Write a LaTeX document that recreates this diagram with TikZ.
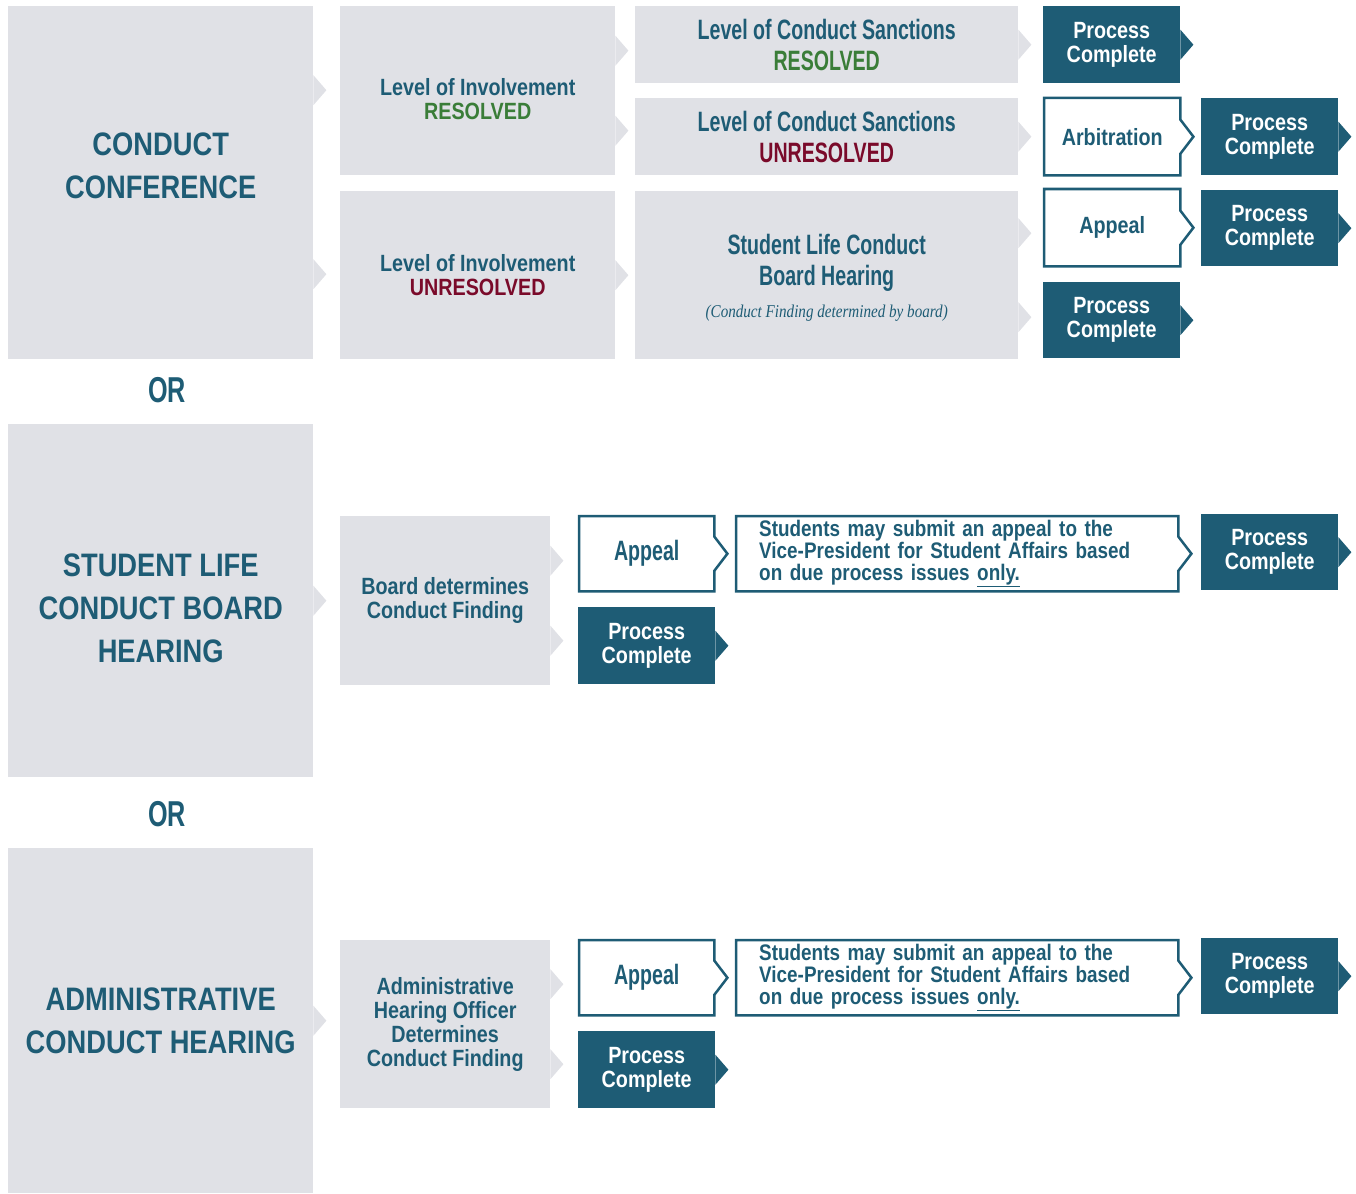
\documentclass[tikz,border=0pt]{standalone}
\usepackage{fontspec}
\setmainfont{Liberation Sans}
\newfontfamily\hcond{Liberation Sans}[FakeStretch=0.84]
\newfontfamily\hnarrow{Liberation Sans}[FakeStretch=0.70]
\newfontfamily\garam{Liberation Serif}[FakeStretch=0.84]
\newcommand\headfnt{\hcond\bfseries\fontsize{32.5}{43}\selectfont}
\newcommand\bodyfnt{\hcond\bfseries\fontsize{23.5}{24}\selectfont}
\newcommand\askfnt{\hcond\bfseries\fontsize{22.5}{22}\selectfont}
\newcommand\tallfnt{\hnarrow\bfseries\fontsize{28}{31}\selectfont}
\newcommand\orfnt{\hnarrow\bfseries\fontsize{36}{36}\selectfont}
\newcommand\notefnt{\garam\itshape\fontsize{18}{18}\selectfont}
\definecolor{mist}{RGB}{224,225,230}
\definecolor{ink}{RGB}{30,92,117}
\definecolor{okgreen}{RGB}{58,125,56}
\definecolor{badred}{RGB}{122,10,42}
\usetikzlibrary{positioning}
% small pointed tab on the right edge of a node
\def\sidetab#1#2#3{
\fill [#3] ([yshift=#2]#1.east) ++(0pt,15pt) -- ++(13pt,-15pt) -- ++(-13pt,-15pt) -- cycle;
}
% outlined box with a pointed right edge
\def\pointbox#1{
\draw [ink, line width=2.5pt]
      (#1.north west) -- (#1.north east) -- ([yshift=17pt]#1.east)
      -- ([xshift=13pt]#1.east) -- ([yshift=-17pt]#1.east)
      -- (#1.south east) -- (#1.south west) -- cycle;
}

\begin{document}
\begin{tikzpicture}[x=1pt, y=-1pt,
    mistbox/.style={fill=mist, text=ink, align=center, inner sep=0pt, anchor=north west},
    txt/.style={text=ink, align=center, inner sep=0pt},
    donebox/.style={fill=ink, text=white, align=center, inner sep=0pt, anchor=north west, font=\bodyfnt},
    linebox/.style={text=ink, align=center, inner sep=0pt, anchor=north west, font=\bodyfnt},
    askbox/.style={linebox, align=left, text width=396pt, inner xsep=23pt, font=\askfnt}]
    \useasboundingbox (0,0) rectangle (1356,1193);
    % conduct conference
    \node [mistbox, minimum width=305pt, minimum height=353pt] (conf) at (8,6) {};
    \node [txt, font=\headfnt] at ([yshift=17pt]conf.center) {CONDUCT\\CONFERENCE};
    \node [mistbox, minimum width=275pt, minimum height=169pt] (invok) at (340,6) {};
    \node [txt, font=\bodyfnt] at ([yshift=-8.5pt]invok.center) {Level of Involvement\\\textcolor{okgreen}{RESOLVED}};
    \node [mistbox, minimum width=275pt, minimum height=168pt, font=\bodyfnt] (invbad) at (340,191) {Level of Involvement\\\textcolor{badred}{UNRESOLVED}};
    \node [mistbox, minimum width=383pt, minimum height=77pt, font=\tallfnt] (sancok) at (635,6) {Level of Conduct Sanctions\\\textcolor{okgreen}{RESOLVED}};
    \node [mistbox, minimum width=383pt, minimum height=77pt, font=\tallfnt] (sancbad) at (635,98) {Level of Conduct Sanctions\\\textcolor{badred}{UNRESOLVED}};
    \node [mistbox, minimum width=383pt, minimum height=168pt] (board) at (635,191) {};
    \node [txt, font=\tallfnt] at ([yshift=12.5pt]board.center) {Student Life Conduct\\Board Hearing};
    \node [txt, font=\notefnt] at ([yshift=-38pt]board.center) {(Conduct Finding determined by board)};
    \node [donebox, minimum width=137pt, minimum height=77pt] (done1) at (1043,6) {Process\\Complete};
    \node [linebox, minimum width=136pt, minimum height=77pt] (arb) at (1044,98) {Arbitration};
    \node [linebox, minimum width=136pt, minimum height=77pt] (appeal1) at (1044,189) {Appeal};
    \node [donebox, minimum width=137pt, minimum height=76pt] (done2) at (1043,282) {Process\\Complete};
    \node [donebox, minimum width=137pt, minimum height=77pt] (done3) at (1201,98) {Process\\Complete};
    \node [donebox, minimum width=137pt, minimum height=76pt] (done4) at (1201,190) {Process\\Complete};
    \node [txt, font=\orfnt] (or1) at (167,390) {OR};
    % board hearing
    \node [mistbox, minimum width=305pt, minimum height=353pt] (slcb) at (8,424) {};
    \node [txt, font=\headfnt] at ([yshift=-7.5pt]slcb.center) {STUDENT LIFE\\CONDUCT BOARD\\HEARING};
    \node [mistbox, minimum width=210pt, minimum height=169pt, font=\bodyfnt] (bdfind) at (340,516) {Board determines\\Conduct Finding};
    \node [linebox, minimum width=135pt, minimum height=75pt, font=\tallfnt] (appeal2) at (579,516) {Appeal};
    \node [askbox, minimum height=75pt] (vp2) at (736,516) {Students may submit an appeal to the\\Vice-President for Student Affairs based\\on due process issues \underline{only.}};
    \node [donebox, minimum width=137pt, minimum height=76pt] (done5) at (1201,514) {Process\\Complete};
    \node [donebox, minimum width=137pt, minimum height=77pt] (done6) at (578,607) {Process\\Complete};
    \node [txt, font=\orfnt] (or2) at (167,814) {OR};
    % administrative hearing
    \node [mistbox, minimum width=305pt, minimum height=345pt, font=\headfnt] (ach) at (8,848) {ADMINISTRATIVE\\CONDUCT HEARING};
    \node [mistbox, minimum width=210pt, minimum height=168pt, font=\bodyfnt] (hofind) at (340,940) {Administrative\\Hearing Officer\\Determines\\Conduct Finding};
    \node [linebox, minimum width=135pt, minimum height=75pt, font=\tallfnt] (appeal3) at (579,940) {Appeal};
    \node [askbox, minimum height=75pt] (vp3) at (736,940) {Students may submit an appeal to the\\Vice-President for Student Affairs based\\on due process issues \underline{only.}};
    \node [donebox, minimum width=137pt, minimum height=76pt] (done7) at (1201,938) {Process\\Complete};
    \node [donebox, minimum width=137pt, minimum height=77pt] (done8) at (578,1031) {Process\\Complete};
    % tabs and outlines
    \sidetab{conf}{92.5pt}{mist}
    \sidetab{conf}{-91.5pt}{mist}
    \sidetab{invok}{40pt}{mist}
    \sidetab{invok}{-40pt}{mist}
    \sidetab{board}{42pt}{mist}
    \sidetab{board}{-42pt}{mist}
    \sidetab{bdfind}{40pt}{mist}
    \sidetab{bdfind}{-40pt}{mist}
    \sidetab{hofind}{40pt}{mist}
    \sidetab{hofind}{-40pt}{mist}
    \foreach \n in {invbad,sancok,sancbad,slcb,ach} {\sidetab{\n}{0pt}{mist}}
    \foreach \n in {done1,done2,done3,done4,done5,done6,done7,done8} {\sidetab{\n}{0pt}{ink}}
    \foreach \n in {arb,appeal1,appeal2,vp2,appeal3,vp3} {\pointbox{\n}}
\end{tikzpicture}
\end{document}
